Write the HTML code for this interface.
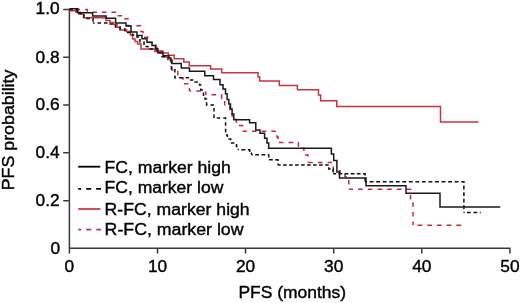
<!DOCTYPE html>
<html><head><meta charset="utf-8">
<style>
html,body{margin:0;padding:0;background:#fff;}
body{width:520px;height:303px;overflow:hidden;}
svg{display:block;will-change:transform;}
text{font-family:"Liberation Sans", sans-serif;font-size:17.3px;fill:#000;stroke:#000;stroke-width:0.4px;}
</style></head>
<body>
<svg width="520" height="303" viewBox="0 0 520 303">
<g fill="none" stroke-linejoin="miter" stroke-linecap="butt">
<path d="M69.4 9.4 V253.4 M69.4 248.3 H509.9 V253.4 M157.5 248.3 V253.4 M245.5 248.3 V253.4 M333.7 248.3 V253.4 M421.8 248.3 V253.4 M63.2 9.4 H69.4 M63.2 57.3 H69.4 M63.2 104.9 H69.4 M63.2 152.7 H69.4 M63.2 200.7 H69.4" stroke="#3a3a3a" stroke-width="1.5"/>
<path d="M69.4 9.4 H70.5 V10.8 H76 V12.3 H80.6 V14 H83.5 V17.8 H106 V20.6 H110 V22.5 H113.6 V24.6 H117 V27.2 H120 V30 H126.6 V31.5 H130.5 V35 H132.6 V39 H135 V41.5 H137.6 V44 H141 V48.9 H154.9 V51.5 H158 V52.9 H168.3 V55.3 H174.2 V58.8 H183.8 V61.9 H189.2 V65.8 H210.6 V69.1 H221.8 V72.8 H258 V77 H259.7 V81.1 H279.3 V85.5 H297.4 V89.8 H318.5 V95 H320.6 V100.8 H336.8 V106.4 H440.5 V121.9 H478.5" stroke="#c83440" stroke-width="1.5"/>
<path d="M69.4 9.4 H87.3 V12.2" stroke="#c8283c" stroke-width="1.5" stroke-dasharray="4.6 5" stroke-dashoffset="3.5"/>
<path d="M87.3 12.2 H117 V15.8 H123 V18.7 H128 V25.7 H140.5 V31.5 H143 V37.3 H149.5 V42.5 H155.9 V47.4 H160 V51.1 H163 V57 H170 V60 H171.9 V70 H177.8 V77.7 H183 V83.8 H189.4 V91" stroke="#c8283c" stroke-width="1.5" stroke-dasharray="4.6 5" stroke-dashoffset="4.6"/>
<path d="M189.4 91 H205.7 V94.7" stroke="#c8283c" stroke-width="1.5" stroke-dasharray="4.6 5.1" stroke-dashoffset="2.8"/>
<path d="M205.7 94.7 H221.6 V100 H224.7 V106 H229.7 V111 H232.1 V116 H236.3 V122 H239.6 V125.5 H242.5 V131.2" stroke="#c8283c" stroke-width="1.5" stroke-dasharray="4.6 5.1" stroke-dashoffset="3.9"/>
<path d="M242.5 131.2 H277 V137 H278 V142.4" stroke="#c8283c" stroke-width="1.5" stroke-dasharray="4.6 5.1" stroke-dashoffset="0.2"/>
<path d="M278 142.4 H298.4 V148.2 H303.9 V155 H308 V162.4" stroke="#c8283c" stroke-width="1.5" stroke-dasharray="4.6 5.1" stroke-dashoffset="8.9"/>
<path d="M308 162.4 H333.3 V170.8 H340 V173 H345 V176.8 H348.8 V189.2" stroke="#c8283c" stroke-width="1.5" stroke-dasharray="4.6 5.1" stroke-dashoffset="9.5"/>
<path d="M348.8 189.2 H410.5 V203 H413 V225.3" stroke="#c8283c" stroke-width="1.5" stroke-dasharray="4.6 5.1" stroke-dashoffset="0.4"/>
<path d="M413 225.3 H461.3" stroke="#c8283c" stroke-width="1.5" stroke-dasharray="4.8 4.9" stroke-dashoffset="5.2"/>
<path d="M69.4 9.4 H77 V13.7 H84 V18.5 H93 V22.9" stroke="#111" stroke-width="1.5" stroke-dasharray="3.5 3" stroke-dashoffset="0"/>
<path d="M93 22.9 H110 V24 H115.5 V27 H120 V29 H125 V32.5 H132.5 V35 H137 V37 H140 V42 H144 V46.5 H148 V49 H157 V52.4 H162 V56.4 H168 V59.5 H171.4 V68.8 H174.9 V77.8 H190.7 V80 H193.5 V82 H199.5 V85 H200.8 V90 H203.5 V96 H205 V99 H206.6 V104.9 H214 V118.1 H225.6 V134.9 H227.4 V139 H230.7 V143.1 H236.5 V146.4 H238.2 V149.7" stroke="#111" stroke-width="1.5" stroke-dasharray="3.5 3" stroke-dashoffset="2"/>
<path d="M238.2 149.7 H249.7 V153 H251.4 V154.7" stroke="#111" stroke-width="1.5" stroke-dasharray="4 2.6" stroke-dashoffset="3.5"/>
<path d="M251.4 154.7 H268.7 V159.8 H278 V164.9" stroke="#111" stroke-width="1.5" stroke-dasharray="3.8 2.5" stroke-dashoffset="2.5"/>
<path d="M278 164.9 H328.7 V169 H333.1 V173.8" stroke="#111" stroke-width="1.5" stroke-dasharray="3.6 2.4" stroke-dashoffset="0.9"/>
<path d="M333.1 173.8 H365.1 V181.8" stroke="#111" stroke-width="1.5" stroke-dasharray="3.8 2.3" stroke-dashoffset="0.7"/>
<path d="M365.1 181.8 H463.9 V212.6" stroke="#111" stroke-width="1.5" stroke-dasharray="3.9 2.64" stroke-dashoffset="2.02"/>
<path d="M463.9 212.6 H480.7" stroke="#111" stroke-width="1.5" stroke-dasharray="3.8 2.6" stroke-dashoffset="3.3"/>
<path d="M69.4 8.8 H77.8 V12.8 H92.6 V16 H106.2 V18.3 H115.6 V23 H126 V26 H131 V32 H137 V35.5 H142 V38.8 H147 V42.2 H152 V45.5 H155.5 V49 H158 V52.4 H163 V55.8 H168.9 V57.9 H170.9 V60.9 H171.8 V63.6 H181.3 V68 H189.5 V71.3 H204.8 V75.7 H213.5 V79.5 H220 V84.8 H223 V88.9 H225.5 V93.8 H227.1 V99.6 H228.8 V104 H230.5 V109 H232.1 V114 H233.8 V119.8 H249.6 V122.8 H255.8 V130 H260 V133.2 H264.6 V138.2 H267 V143.1 H268.7 V148.3 H331.4 V154 H333.7 V160.5 H336.9 V172 H339.5 V178 H366 V185.7 H406 V193.3 H440 V207.1 H500.3" stroke="#1a1a1a" stroke-width="1.5"/>
<path d="M78.2 166.7 H100.3" stroke="#000" stroke-width="1.8"/>
<path d="M78.2 188.9 H101" stroke="#000" stroke-width="1.8" stroke-dasharray="3 5 5 5 5 5"/>
<path d="M78.2 209 H100.4" stroke="#c83c46" stroke-width="1.8"/>
<path d="M78.2 229.6 H101" stroke="#b03c50" stroke-width="1.8" stroke-dasharray="3 5 5 5 5 5"/>
</g>
<text x="59.6" y="14.2" text-anchor="end">1.0</text>
<text x="59.6" y="63.3" text-anchor="end">0.8</text>
<text x="59.6" y="110" text-anchor="end">0.6</text>
<text x="59.6" y="157.6" text-anchor="end">0.4</text>
<text x="59.6" y="205.8" text-anchor="end">0.2</text>
<text x="60.2" y="253.8" text-anchor="end">0</text>
<text x="69.4" y="272.3" text-anchor="middle">0</text>
<text x="157.5" y="272.3" text-anchor="middle">10</text>
<text x="245.5" y="272.3" text-anchor="middle">20</text>
<text x="333.7" y="272.3" text-anchor="middle">30</text>
<text x="421.8" y="272.3" text-anchor="middle">40</text>
<text x="509.9" y="272.3" text-anchor="middle">50</text>
<text x="238.4" y="297.7" textLength="107.7" lengthAdjust="spacingAndGlyphs">PFS (months)</text>
<text transform="translate(14.2,190.3) rotate(-90)" textLength="120.7" lengthAdjust="spacingAndGlyphs">PFS probability</text>
<text x="104.6" y="172.7" textLength="126.2" lengthAdjust="spacingAndGlyphs">FC, marker high</text>
<text x="104.6" y="193" textLength="118.7" lengthAdjust="spacingAndGlyphs">FC, marker low</text>
<text x="104.6" y="215" textLength="145.1" lengthAdjust="spacingAndGlyphs">R-FC, marker high</text>
<text x="104.6" y="235.3" textLength="138.9" lengthAdjust="spacingAndGlyphs">R-FC, marker low</text>
</svg>
</body></html>
